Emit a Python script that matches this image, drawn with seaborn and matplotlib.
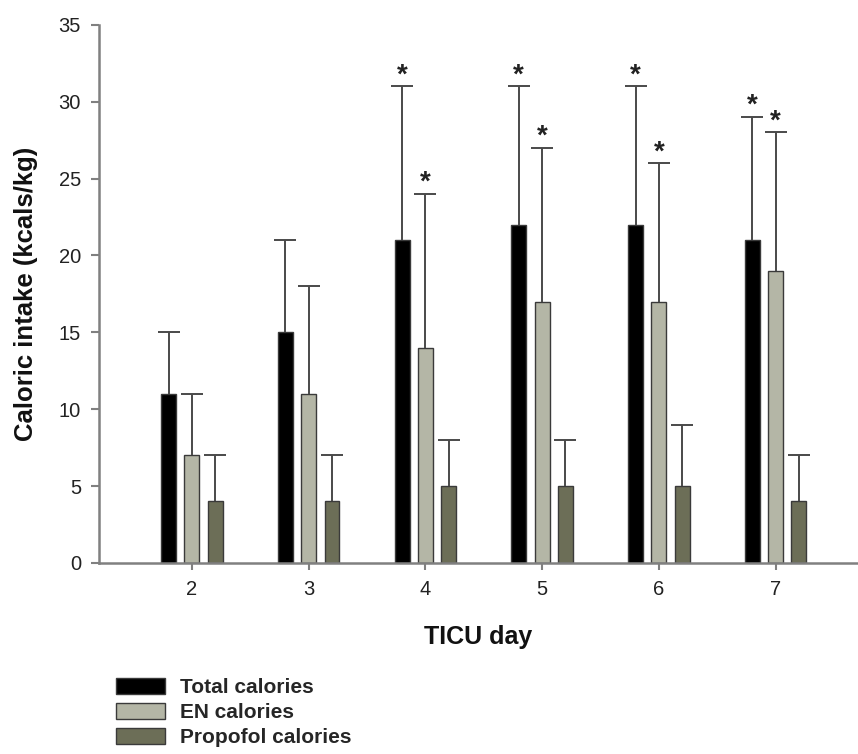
import matplotlib
matplotlib.use("Agg")
import matplotlib.pyplot as plt
import matplotlib.patches as mpatches
import seaborn as sns
import numpy as np
import pandas as pd

days = ["2", "3", "4", "5", "6", "7"]
series = ["Total calories", "EN calories", "Propofol calories"]
total_mean = [11, 15, 21, 22, 22, 21]
total_sd = [4, 6, 10, 9, 9, 8]
en_mean = [7, 11, 14, 17, 17, 19]
en_sd = [4, 7, 10, 10, 9, 9]
prop_mean = [4, 4, 5, 5, 5, 4]
prop_sd = [3, 3, 3, 3, 4, 3]
total_sig = [False, False, True, True, True, True]
en_sig = [False, False, True, True, True, True]
prop_sig = [False] * 6

colors = ["#000000", "#b4b6a6", "#6c6e57"]

sns.set_theme(style="white")
plt.rcParams["font.family"] = ["Liberation Sans", "DejaVu Sans"]

df = pd.DataFrame({
    "day": days * 3,
    "series": [s for s in series for _ in days],
    "value": total_mean + en_mean + prop_mean,
})

fig = plt.figure(figsize=(8.58, 7.54), dpi=100)
ax = fig.add_axes([99 / 858, 1 - 563 / 754, 1 - 99 / 858 - 0.0008, (563 - 24.7) / 754])

sns.barplot(data=df, x="day", y="value", hue="series", order=days, hue_order=series,
            palette=colors, width=0.6, gap=0.36, errorbar=None, ax=ax,
            edgecolor="#3a3a3a", linewidth=1.0, saturation=1)

bar_containers = list(ax.containers)
means = [total_mean, en_mean, prop_mean]
sds = [total_sd, en_sd, prop_sd]
sigs = [total_sig, en_sig, prop_sig]
for cont, m, s, sig in zip(bar_containers, means, sds, sigs):
    xs = [p.get_x() + p.get_width() / 2 for p in cont.patches]
    m = np.array(m, dtype=float)
    s = np.array(s, dtype=float)
    eb = ax.errorbar(xs, m, yerr=[np.zeros_like(s), s], fmt="none", ecolor="#4a4a4a",
                     elinewidth=1.4, capsize=8, capthick=1.4, zorder=1)
    caplines = eb[1]
    if len(caplines) == 2:
        caplines[0].set_visible(False)
    for x, top, flag in zip(xs, m + s, sig):
        if flag:
            ax.annotate("*", (x, top), xytext=(0, -1.5), textcoords="offset points",
                        ha="center", va="bottom", fontsize=20, fontweight="bold",
                        color="#222222")

ax.set_ylim(0, 35)
ax.set_yticks(range(0, 36, 5))
ax.set_xlim(-0.796, 5.70)

for side in ["top", "right"]:
    ax.spines[side].set_visible(False)
for side in ["left", "bottom"]:
    ax.spines[side].set_color("#808080")
    ax.spines[side].set_linewidth(1.8)

ax.tick_params(axis="y", direction="out", length=6, width=1.5, color="#808080",
               labelsize=14.5, labelcolor="#222222", pad=7, left=True)
ax.tick_params(axis="x", direction="out", length=5, width=1.5, color="#808080",
               labelsize=14.5, labelcolor="#222222", pad=7, bottom=True)

ax.set_xlabel("TICU day", fontsize=18, fontweight="bold", labelpad=19, color="#111111")
ax.set_ylabel("Caloric intake (kcals/kg)", fontsize=18.5, fontweight="bold", labelpad=15,
              color="#111111")

leg = ax.get_legend()
if leg is not None:
    leg.remove()
handles = [mpatches.Patch(facecolor=c, edgecolor="#3a3a3a", linewidth=1.0) for c in colors]
fig.legend(handles, series, loc="upper left", bbox_to_anchor=(108 / 858, 1 - 670 / 754),
           frameon=False, handlelength=2.35, handleheight=0.77,
           labelspacing=0.28, handletextpad=0.7, borderaxespad=0,
           prop={"weight": "bold", "size": 15})

fig.savefig("out.png", dpi=100)
